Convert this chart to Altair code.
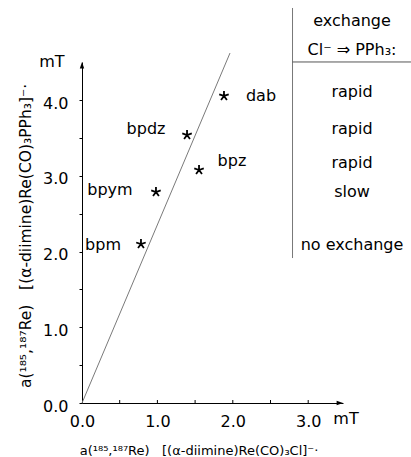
import altair as alt
import pandas as pd

# ---- data (mT) ----
ligands = ["dab", "bpdz", "bpz", "bpym", "bpm"]
a_cl = [1.883, 1.393, 1.552, 0.981, 0.782]        # a(Re) of [(L)Re(CO)3Cl]-.
a_pph3 = [4.056, 3.540, 3.078, 2.787, 2.100]      # a(Re) of [(L)Re(CO)3PPh3].
label_x = [2.374, 0.849, 1.989, 0.371, 0.279]
label_y = [3.989, 3.554, 3.131, 2.748, 2.021]

exchange = ["rapid", "rapid", "rapid", "slow", "no exchange"]
exchange_y = [4.042, 3.554, 3.104, 2.721, 2.021]
header = ["exchange", "Cl\u207b \u21d2 PPh\u2083:"]
header_y = [4.980, 4.597]
table_x = [3.581]

line_x = [0.0, 1.963]
line_y = [0.0, 4.623]

x_ticks = [0.0, 0.5, 1.0, 1.5, 2.0, 2.5, 3.0]
y_ticks = [0.0, 0.5, 1.0, 1.5, 2.0, 2.5, 3.0, 3.5, 4.0]
x_max = 3.4615
y_max = 4.5046

sp = "\u00a0\u00a0\u00a0"
x_title = "a(\u00b9\u2078\u2075,\u00b9\u2078\u2077Re)" + sp + "[(\u03b1-diimine)Re(CO)\u2083Cl]\u207b\u00b7"
y_title = "a(\u00b9\u2078\u2075,\u00b9\u2078\u2077Re)" + sp + "[(\u03b1-diimine)Re(CO)\u2083PPh\u2083]\u207b\u00b7"

W, H = 261, 341
FONT = "DejaVu Sans"

xs = alt.Scale(domain=[0, x_max], nice=False, zero=False)
ys = alt.Scale(domain=[0, y_max], nice=False, zero=False)

label_expr = "datum.value % 1 == 0 ? format(datum.value, '.1f') : ''"

XAX = alt.Axis(
    values=x_ticks, labelExpr=label_expr, title=None, grid=False,
    domainColor="black", domainWidth=1, ticks=True, tickSize=3, tickOpacity=0,
    labelPadding=7, labelBaseline="top", labelFlush=False, labelOverlap=False,
    labelFontSize=16, labelFont=FONT, labelColor="black")
YAX = alt.Axis(
    values=y_ticks, labelExpr=label_expr, title=None, grid=False,
    domainColor="black", domainWidth=1, ticks=True, tickSize=3, tickColor="black",
    tickWidth=1, labelPadding=11, labelBaseline="middle", labelOffset=3,
    labelFlush=False, labelOverlap=False,
    labelFontSize=16, labelFont=FONT, labelColor="black")


def X(f):
    return alt.X(f, scale=xs, axis=XAX)


def Y(f):
    return alt.Y(f, scale=ys, axis=YAX)


# line
line_df = pd.DataFrame({"x": line_x, "y": line_y})
base = alt.Chart(line_df).mark_line(color="#7a7a7a", strokeWidth=1).encode(
    x=X("x:Q"), y=Y("y:Q"))

# upward x ticks
xt_df = pd.DataFrame({"x": x_ticks[1:]})
xticks = alt.Chart(xt_df).mark_rule(color="black", strokeWidth=1).encode(
    x=X("x:Q"), y=alt.value(H), y2=alt.value(H - 3))

# arrowheads
ya_df = pd.DataFrame({"x": [0.0], "y": [y_max]})
xa_df = pd.DataFrame({"x": [x_max], "y": [0.0]})
yarrow = alt.Chart(ya_df).mark_point(
    shape="M0,0L0.55,1.6L-0.55,1.6Z", filled=True, color="black", size=64, opacity=1
).encode(x=X("x:Q"), y=Y("y:Q"))
xarrow = alt.Chart(xa_df).mark_point(
    shape="M0,0L-1.6,-0.55L-1.6,0.55Z", filled=True, color="black", size=64, opacity=1
).encode(x=X("x:Q"), y=Y("y:Q"))

# stars
star_df = pd.DataFrame({"lig": ligands, "x": a_cl, "y": a_pph3,
                        "lx": label_x, "ly": label_y})
star_path = ("M0,0L0,-1M0,0L0.951,-0.309M0,0L0.588,0.809"
             "M0,0L-0.588,0.809M0,0L-0.951,-0.309")
stars = alt.Chart(star_df).mark_point(
    shape=star_path, filled=False, color="black", strokeWidth=1.8, size=100, opacity=1
).encode(x=X("x:Q"), y=Y("y:Q"))
labels = alt.Chart(star_df).mark_text(
    font=FONT, fontSize=16, color="black", align="center", baseline="alphabetic"
).encode(x=X("lx:Q"), y=Y("ly:Q"), text="lig:N")

# table
tab_df = pd.DataFrame({"t": exchange + header,
                       "y": exchange_y + header_y,
                       "x": table_x * (len(exchange) + len(header))})
table_text = alt.Chart(tab_df).mark_text(
    font=FONT, fontSize=16, color="black", align="center", baseline="alphabetic"
).encode(x=X("x:Q"), y=Y("y:Q"), text="t:N")
vline_df = pd.DataFrame({"x": [2.792], "y": [1.915], "y2": [5.218]})
vline = alt.Chart(vline_df).mark_rule(color="#777777", strokeWidth=1).encode(
    x=X("x:Q"), y=Y("y:Q"), y2="y2:Q")
hline_df = pd.DataFrame({"x": [2.792], "x2": [4.363], "y": [4.505]})
hline = alt.Chart(hline_df).mark_rule(color="#555555", strokeWidth=1).encode(
    x=X("x:Q"), x2="x2:Q", y=Y("y:Q"))

# unit labels and axis titles
unit_df = pd.DataFrame({"t": ["mT", "mT"], "x": [-0.400, 3.501], "y": [4.439, -0.277]})
units = alt.Chart(unit_df).mark_text(
    font=FONT, fontSize=16, color="black", align="center", baseline="alphabetic"
).encode(x=X("x:Q"), y=Y("y:Q"), text="t:N")
xt_title = alt.Chart(pd.DataFrame({"t": [x_title], "x": [1.552], "y": [-0.687]})).mark_text(
    font=FONT, fontSize=13, color="black", align="center", baseline="alphabetic"
).encode(x=X("x:Q"), y=Y("y:Q"), text="t:N")
yt_title = alt.Chart(pd.DataFrame({"t": [y_title], "x": [-0.676], "y": [2.206]})).mark_text(
    font=FONT, fontSize=15.5, color="black", align="center", baseline="alphabetic", angle=270
).encode(x=X("x:Q"), y=Y("y:Q"), text="t:N")

chart = alt.layer(
    base, xticks, yarrow, xarrow, stars, labels, table_text, vline, hline,
    units, xt_title, yt_title
).properties(
    width=W, height=H,
    autosize=alt.AutoSizeParams(type="none"),
    padding={"left": 82, "top": 62, "right": 68, "bottom": 54},
    background="white",
).configure_view(stroke=None)

chart.save("out.html", embed_options={"renderer": "svg", "actions": False})
